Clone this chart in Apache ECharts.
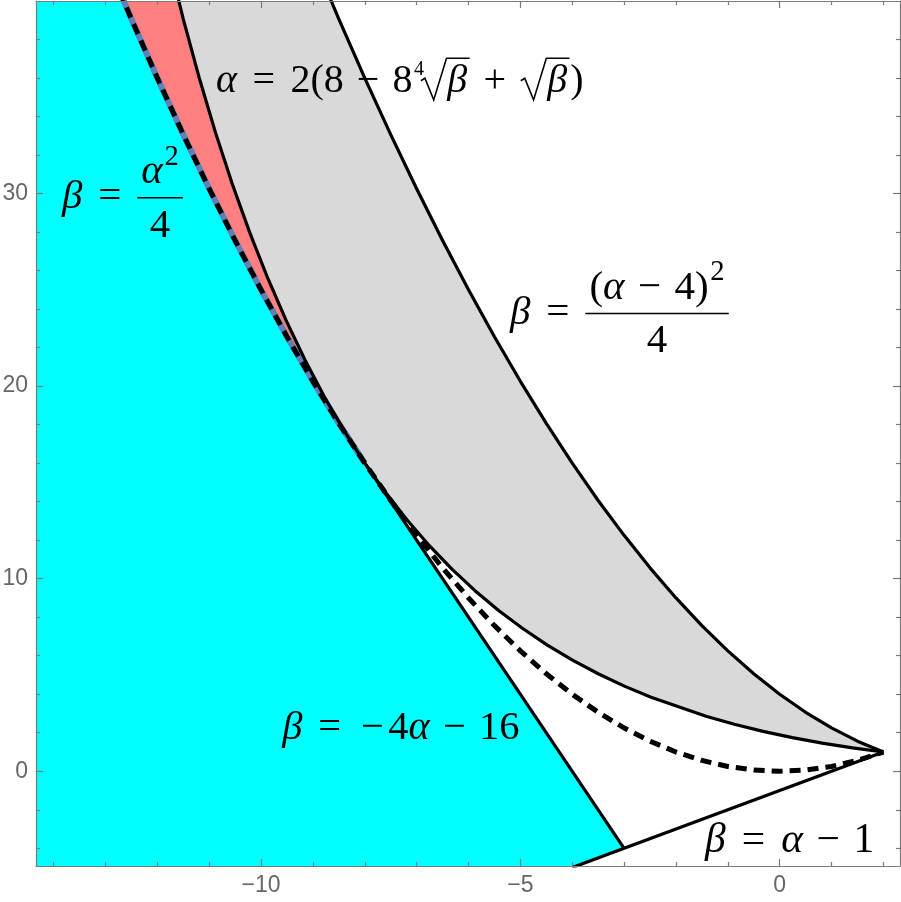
<!DOCTYPE html>
<html><head><meta charset="utf-8">
<script src="https://cdn.jsdelivr.net/npm/echarts@6/dist/echarts.min.js"></script>
<style>html,body{margin:0;padding:0;background:#fff}#c{width:901px;height:902px}</style>
</head><body><div id="c"></div>
<script>
// ---- axes ----
const xRange = [-14.34, 2.32];
const yRange = [-4.92, 40.0];
const xMajorTicks = [-10, -5, 0];
const xMinorTicks = [-14, -13, -12, -11, -9, -8, -7, -6, -4, -3, -2, -1, 1, 2];
const yMajorTicks = [0, 10, 20, 30];
const yMinorTicks = [-4, -2, 2, 4, 6, 8, 12, 14, 16, 18, 22, 24, 26, 28, 32, 34, 36, 38];

// ---- curves (alpha, beta) ----
// beta = alpha^2/4 (dashed)
const parabolaA = [[-13,42.25],[-12.5,39.0625],[-12,36],[-11.5,33.0625],[-11,30.25],[-10.5,27.5625],[-10,25],[-9.5,22.5625],[-9,20.25],[-8.5,18.0625],[-8,16],[-7.5,14.0625],[-7,12.25],[-6.5,10.5625],[-6,9],[-5.5,7.5625],[-5,6.25],[-4.5,5.0625],[-4,4],[-3.5,3.0625],[-3,2.25],[-2.5,1.5625],[-2,1],[-1.5,0.5625],[-1,0.25],[-0.5,0.0625],[0,0],[0.5,0.0625],[1,0.25],[1.5,0.5625],[2,1]];
// beta = (alpha-4)^2/4
const parabolaB = [[-9,42.25],[-8.5,39.0625],[-8,36],[-7.5,33.0625],[-7,30.25],[-6.5,27.5625],[-6,25],[-5.5,22.5625],[-5,20.25],[-4.5,18.0625],[-4,16],[-3.5,14.0625],[-3,12.25],[-2.5,10.5625],[-2,9],[-1.5,7.5625],[-1,6.25],[-0.5,5.0625],[0,4],[0.5,3.0625],[1,2.25],[1.5,1.5625],[2,1]];
// alpha = 2(8 - 8 beta^(1/4) + sqrt(beta))
const curveC = [[2,1],[1.405,1.2155],[0.82,1.4641],[0.245,1.749],[-0.32,2.0736],[-0.875,2.4414],[-1.42,2.8561],[-2.48,3.8416],[-2.995,4.4205],[-3.5,5.0625],[-3.995,5.772],[-4.48,6.5536],[-4.955,7.412],[-5.42,8.3521],[-5.875,9.3789],[-6.32,10.4976],[-6.755,11.7135],[-7.18,13.0321],[-7.595,14.459],[-8,16],[-8.395,17.661],[-8.78,19.4481],[-9.155,21.3675],[-9.52,23.4256],[-9.875,25.6289],[-10.22,27.9841],[-10.555,30.498],[-10.88,33.1776],[-11.195,36.03],[-11.5,39.0625],[-11.795,42.2825]];
// beta = -4 alpha - 16
const lineD = [[-8,16],[-3,-4]];
// beta = alpha - 1
const lineE = [[-4,-5],[2,1]];

// ---- labels (anchor = left end of baseline, data coords) ----
const labelTop = {anchor:[-10.87, 35.28], size:40, tokens:[
  {s:'α',it:1},{op:'=',g:.28},{s:'2(8',g:.28},{op:'−',g:.22},{s:'8',g:.22},
  {sqrt:[{s:'β',it:1}],idx:'4'},{op:'+',g:.22},{sqrt:[{s:'β',it:1}],g:.22},{s:')'}]};
const labelA = {anchor:[-13.84, 29.25], size:41, tokens:[
  {s:'β',it:1},{op:'=',g:.28},{g:.28,frac:{num:[{s:'α',it:1},{sup:'2'}],den:[{s:'4'}]}}]};
const labelB = {anchor:[-5.20, 23.24], size:41, tokens:[
  {s:'β',it:1},{op:'=',g:.28},{g:.28,frac:{num:[{s:'('},{s:'α',it:1},{op:'−',g:.22},{s:'4',g:.22},{s:')'},{sup:'2'}],den:[{s:'4'}]}}]};
const labelD = {anchor:[-9.59, 1.69], size:40.5, tokens:[
  {s:'β',it:1},{op:'=',g:.28},{op:'−',g:.28},{s:'4'},{s:'α',it:1},{op:'−',g:.22},{s:'16',g:.22}]};
const labelE = {anchor:[-1.44, -4.19], size:41.5, tokens:[
  {s:'β',it:1},{op:'=',g:.28},{s:'α',it:1,g:.28},{op:'−',g:.22},{s:'1',g:.22}]};

// ---- colours ----
const CYAN = '#00FFFF', RED = '#FF8080', GRAY = '#D9D9D9', BLUE = '#5E80B6', AXC = '#7a7a7a';

// ---- regions built from curves ----
const upperA = parabolaA.filter(p => p[0] <= -8);
const upperC = curveC.filter(p => p[1] >= 16);
const cyanPoly = [[xRange[0]-1, 42.25]].concat(upperA, [lineD[1], lineE[0], [xRange[0]-1, lineE[0][1]]]);
const redPoly = upperA.concat(upperC);
const grayPoly = curveC.concat(parabolaB);

function poly(points, color) {
  return {type:'custom', coordinateSystem:'cartesian2d', xAxisIndex:0, yAxisIndex:0, clip:true, silent:true,
    data:[[xRange[0], yRange[0]]],
    renderItem:(params, api) => ({type:'polygon', shape:{points: points.map(p => api.coord(p))}, style:{fill:color}})};
}
function line(points, color, width, type) {
  return {type:'line', xAxisIndex:0, yAxisIndex:0, data:points, showSymbol:false, symbol:'none', clip:true, silent:true,
    animation:false, lineStyle:{color, width, type:type||'solid', cap:'butt', join:'round'}};
}
const fmt = v => v < 0 ? '−' + Math.abs(v) : String(v);
const labelStyle = {color:'#666', fontSize:23, fontFamily:'Liberation Sans', formatter: fmt};

function xa(pos, ticks, len, showLine, showLabel) {
  return {type:'value', position:pos, min:xRange[0], max:xRange[1], z:20,
    axisLine:{show:showLine, onZero:false, lineStyle:{color:AXC, width:1.2}},
    axisTick:{show:true, inside:true, length:len, customValues:ticks, lineStyle:{color:AXC, width:1.2}},
    axisLabel: showLabel ? Object.assign({show:true, margin:8, customValues:ticks}, labelStyle) : {show:false},
    splitLine:{show:false}};
}
function ya(pos, ticks, len, showLine, showLabel) {
  return {type:'value', position:pos, min:yRange[0], max:yRange[1], z:20,
    axisLine:{show:showLine, onZero:false, lineStyle:{color:AXC, width:1.2}},
    axisTick:{show:true, inside:true, length:len, customValues:ticks, lineStyle:{color:AXC, width:1.2}},
    axisLabel: showLabel ? Object.assign({show:true, margin:8, customValues:ticks}, labelStyle) : {show:false},
    splitLine:{show:false}};
}

const chart = echarts.init(document.getElementById('c'));
chart.setOption({
  animation:false,
  grid:{left:36, right:1, top:1, bottom:36, containLabel:false, outerBoundsMode:'none'},
  xAxis:[xa('bottom', xMajorTicks, 7, true, true), xa('bottom', xMinorTicks, 4, false, false),
         xa('top', xMajorTicks, 7, true, false), xa('top', xMinorTicks, 4, false, false)],
  yAxis:[ya('left', yMajorTicks, 7, true, true), ya('left', yMinorTicks, 4, false, false),
         ya('right', yMajorTicks, 7, true, false), ya('right', yMinorTicks, 4, false, false)],
  series:[
    poly(cyanPoly, CYAN), poly(redPoly, RED), poly(grayPoly, GRAY),
    line(upperA, BLUE, 6),
    line(lineD, '#000', 3.2), line(lineE, '#000', 3.2),
    line(parabolaB, '#000', 3.2), line(curveC, '#000', 3.2),
    line(parabolaA, '#000', 5, [11, 7])
  ]
});

// ---- math label layout ----
const cv = document.createElement('canvas').getContext('2d');
const FAM = 'Liberation Serif';
function fnt(sz, it) { return (it ? 'italic ' : '') + sz.toFixed(2) + 'px "' + FAM + '"'; }
function tw(s, sz, it) { cv.font = fnt(sz, it); cv.textBaseline = 'alphabetic'; return cv.measureText(s).width; }
function midOff(sz, it) {
  cv.font = fnt(sz, it);
  cv.textBaseline = 'alphabetic'; const a = cv.measureText('H').actualBoundingBoxAscent;
  cv.textBaseline = 'middle'; const b = cv.measureText('H').actualBoundingBoxAscent;
  return a - b;
}
function txt(out, s, x, y, sz, it) {
  out.push({type:'text', silent:true, z:100, x:x, y:y - midOff(sz, it),
    style:{text:s, fill:'#000', fontSize:sz, fontFamily:FAM, fontStyle: it ? 'italic' : 'normal', align:'left', verticalAlign:'middle'}});
}
function build(tokens, sz, x, y, out) {
  for (const tk of tokens) {
    x += (tk.g || 0) * sz;
    if (tk.frac) {
      const wn = build(tk.frac.num, sz, 0, 0, []), wd = build(tk.frac.den, sz, 0, 0, []);
      const w = Math.max(wn, wd) + 0.2 * sz;
      const ax = y - 0.25 * sz;
      build(tk.frac.num, sz, x + (w - wn) / 2, ax - 0.36 * sz, out);
      build(tk.frac.den, sz, x + (w - wd) / 2, ax + 0.95 * sz, out);
      out.push({type:'line', silent:true, z:100, shape:{x1:x, y1:ax, x2:x + w, y2:ax}, style:{stroke:'#000', lineWidth:0.04 * sz}});
      x += w;
    } else if (tk.sqrt) {
      const wb = build(tk.sqrt, sz, 0, 0, []);
      let x0 = x + 0.04 * sz;
      if (tk.idx) {
        const isz = 0.5 * sz;
        txt(out, tk.idx, x + 0.04 * sz, y - 0.42 * sz, isz, 0);
        x0 = x + Math.max(0, tw(tk.idx, isz, 0) - 0.04 * sz);
      }
      const top = y - 0.84 * sz;
      const bx = x0 + 0.66 * sz;
      out.push({type:'polyline', silent:true, z:100, shape:{points:[[x0, y - 0.28 * sz], [x0 + 0.1 * sz, y - 0.34 * sz], [x0 + 0.32 * sz, y + 0.2 * sz], [x0 + 0.64 * sz, top], [bx + wb + 0.06 * sz, top]]},
        style:{stroke:'#000', fill:null, lineWidth:0.04 * sz, lineJoin:'miter'}});
      build(tk.sqrt, sz, bx, y, out);
      x = bx + wb + 0.08 * sz;
    } else if (tk.sup) {
      const s2 = 0.7 * sz;
      txt(out, tk.sup, x + 0.04 * sz, y - 0.45 * sz, s2, 0);
      x += tw(tk.sup, s2, 0) + 0.04 * sz;
    } else if (tk.op) {
      const w = tw(tk.op, sz, 0), box = 0.778 * sz;
      txt(out, tk.op, x + (box - w) / 2, y, sz, 0);
      x += box;
    } else {
      txt(out, tk.s, x, y, sz, tk.it);
      x += tw(tk.s, sz, tk.it);
    }
  }
  return x;
}
const graphics = [];
for (const L of [labelTop, labelA, labelB, labelD, labelE]) {
  const p = chart.convertToPixel({xAxisIndex:0, yAxisIndex:0}, L.anchor);
  build(L.tokens, L.size, p[0], p[1], graphics);
}
chart.setOption({graphic: graphics});
</script>
</body></html>
